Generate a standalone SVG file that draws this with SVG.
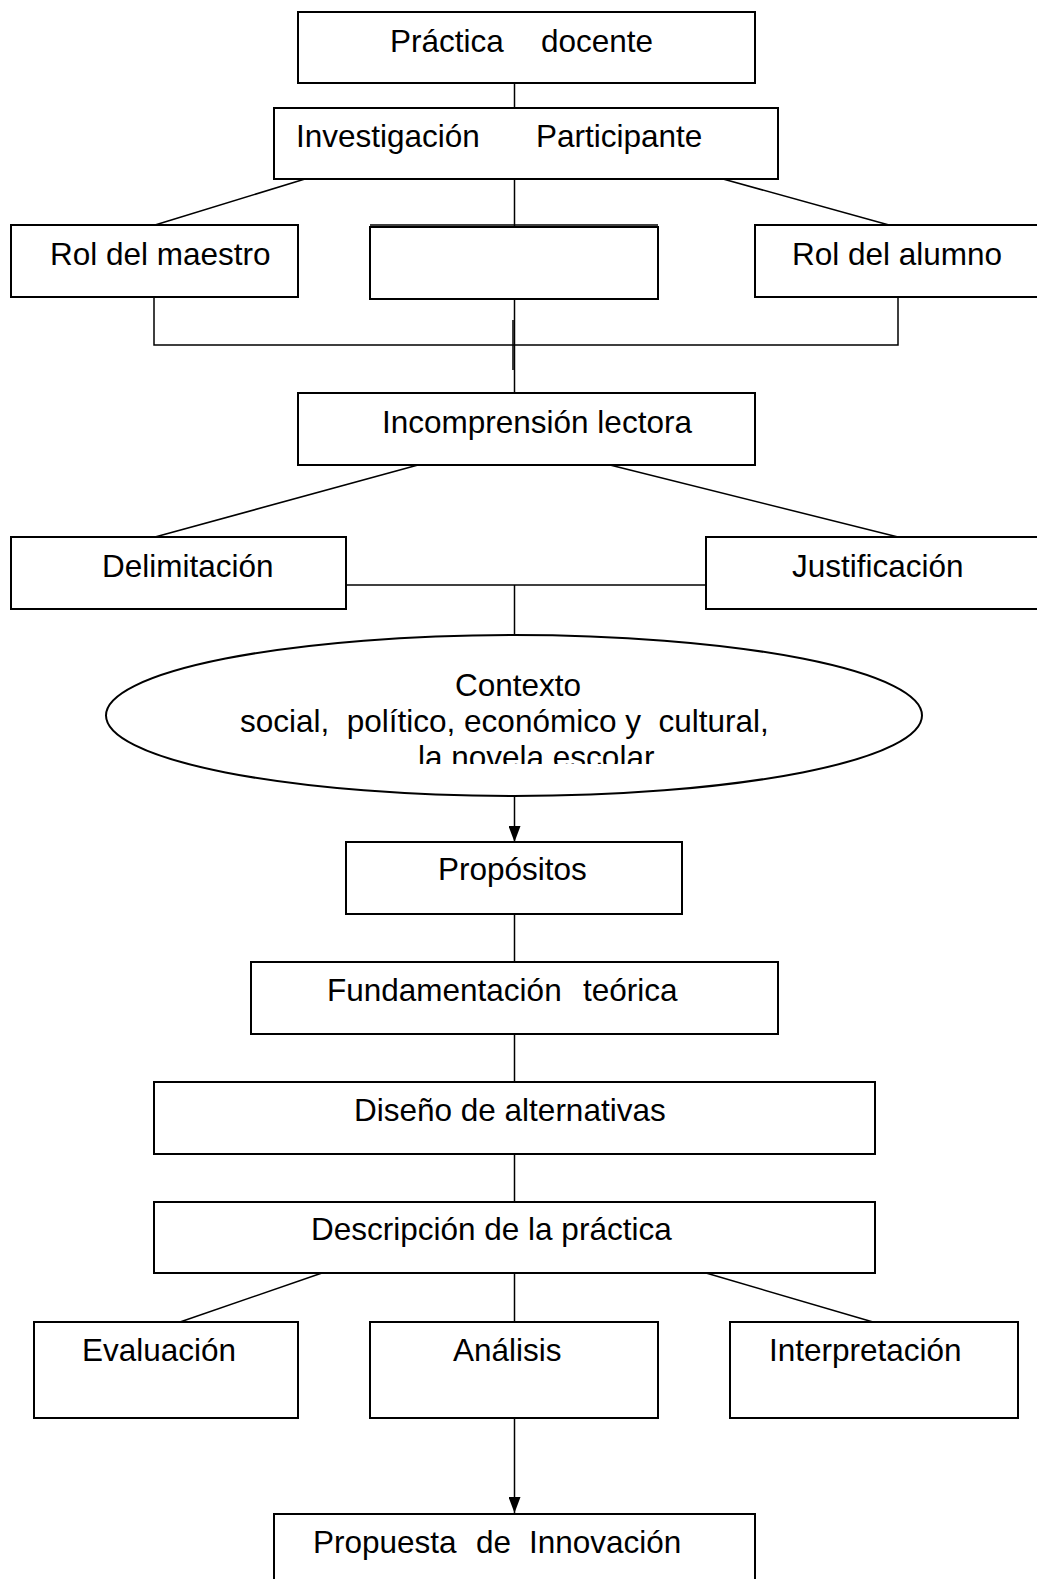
<svg xmlns="http://www.w3.org/2000/svg" width="1037" height="1579" viewBox="0 0 1037 1579">
<style>
.box{fill:#fff;stroke:#000;stroke-width:2}
.ln{fill:none;stroke:#000;stroke-width:1.5}
text{font-family:"Liberation Sans",Arial,sans-serif;font-size:31.5px;fill:#000;white-space:pre}
</style>
<defs>
<marker id="arr" viewBox="0 0 16 12" refX="16" refY="6" markerWidth="16" markerHeight="12" orient="auto" markerUnits="userSpaceOnUse">
<path d="M0,0 L16,6 L0,12 z" fill="#000"/>
</marker>
<clipPath id="clip3"><rect x="0" y="730" width="1037" height="34"/></clipPath>
</defs>
<rect width="1037" height="1579" fill="#fff"/>
<g id="connectors">
<line class="ln" x1="514.5" y1="83" x2="514.5" y2="108"/>
<line class="ln" x1="305" y1="179" x2="155" y2="225"/>
<line class="ln" x1="723" y1="179" x2="889" y2="225"/>
<line class="ln" x1="514.5" y1="179" x2="514.5" y2="226"/>
<path class="ln" d="M154,297 V345 H898 V297"/>
<line class="ln" x1="514.5" y1="299" x2="514.5" y2="393"/>
<line class="ln" x1="513" y1="320" x2="513" y2="370"/>
<line class="ln" x1="418" y1="465" x2="155" y2="537"/>
<line class="ln" x1="610" y1="465" x2="898" y2="537"/>
<line class="ln" x1="346" y1="585" x2="706" y2="585"/>
<line class="ln" x1="514.5" y1="585" x2="514.5" y2="635"/>
<line class="ln" x1="514.5" y1="794" x2="514.5" y2="842" marker-end="url(#arr)"/>
<line class="ln" x1="514.5" y1="914" x2="514.5" y2="962"/>
<line class="ln" x1="514.5" y1="1034" x2="514.5" y2="1082"/>
<line class="ln" x1="514.5" y1="1154" x2="514.5" y2="1202"/>
<line class="ln" x1="322" y1="1273" x2="180" y2="1322"/>
<line class="ln" x1="706" y1="1273" x2="873" y2="1322"/>
<line class="ln" x1="514.5" y1="1273" x2="514.5" y2="1322"/>
<line class="ln" x1="514.5" y1="1418" x2="514.5" y2="1513" marker-end="url(#arr)"/>
</g>
<g id="practica-docente">
<rect class="box" x="298" y="12" width="457" height="71"/>
<text y="52"><tspan x="390">Práctica</tspan><tspan x="541">docente</tspan></text>
</g>
<g id="investigacion-participante">
<rect class="box" x="274" y="108" width="504" height="71"/>
<text y="147"><tspan x="296">Investigación</tspan><tspan x="536">Participante</tspan></text>
</g>
<g id="rol-maestro">
<rect class="box" x="11" y="225" width="287" height="72"/>
<text x="50" y="265">Rol del maestro</text>
</g>
<g id="caja-vacia">
<rect class="box" x="370" y="227" width="288" height="72"/>
<line x1="370" y1="225" x2="658" y2="225" stroke="#000" stroke-width="1.5"/>
</g>
<g id="rol-alumno">
<rect class="box" x="755" y="225" width="300" height="72"/>
<text x="792" y="265">Rol del alumno</text>
</g>
<g id="incomprension-lectora">
<rect class="box" x="298" y="393" width="457" height="72"/>
<text x="382" y="433">Incomprensión lectora</text>
</g>
<g id="delimitacion">
<rect class="box" x="11" y="537" width="335" height="72"/>
<text x="102" y="577">Delimitación</text>
</g>
<g id="justificacion">
<rect class="box" x="706" y="537" width="350" height="72"/>
<text x="792" y="577">Justificación</text>
</g>
<g id="contexto">
<ellipse cx="514" cy="715.5" rx="408" ry="80.5" fill="#fff" stroke="#000" stroke-width="2"/>
<text x="518" y="696" text-anchor="middle">Contexto</text>
<text x="240" y="732">social,  político, económico y  cultural,</text>
<text x="418" y="768" clip-path="url(#clip3)">la novela escolar</text>
</g>
<g id="propositos">
<rect class="box" x="346" y="842" width="336" height="72"/>
<text x="438" y="880">Propósitos</text>
</g>
<g id="fundamentacion-teorica">
<rect class="box" x="251" y="962" width="527" height="72"/>
<text y="1001"><tspan x="327">Fundamentación</tspan><tspan x="583">teórica</tspan></text>
</g>
<g id="diseno-alternativas">
<rect class="box" x="154" y="1082" width="721" height="72"/>
<text x="354" y="1121">Diseño de alternativas</text>
</g>
<g id="descripcion-practica">
<rect class="box" x="154" y="1202" width="721" height="71"/>
<text x="311" y="1240">Descripción de la práctica</text>
</g>
<g id="evaluacion">
<rect class="box" x="34" y="1322" width="264" height="96"/>
<text x="82" y="1361">Evaluación</text>
</g>
<g id="analisis">
<rect class="box" x="370" y="1322" width="288" height="96"/>
<text x="453" y="1361">Análisis</text>
</g>
<g id="interpretacion">
<rect class="box" x="730" y="1322" width="288" height="96"/>
<text x="769" y="1361">Interpretación</text>
</g>
<g id="propuesta-innovacion">
<rect class="box" x="274" y="1514" width="481" height="90"/>
<text y="1553"><tspan x="313">Propuesta</tspan><tspan x="476">de</tspan><tspan x="529">Innovación</tspan></text>
</g>
</svg>
